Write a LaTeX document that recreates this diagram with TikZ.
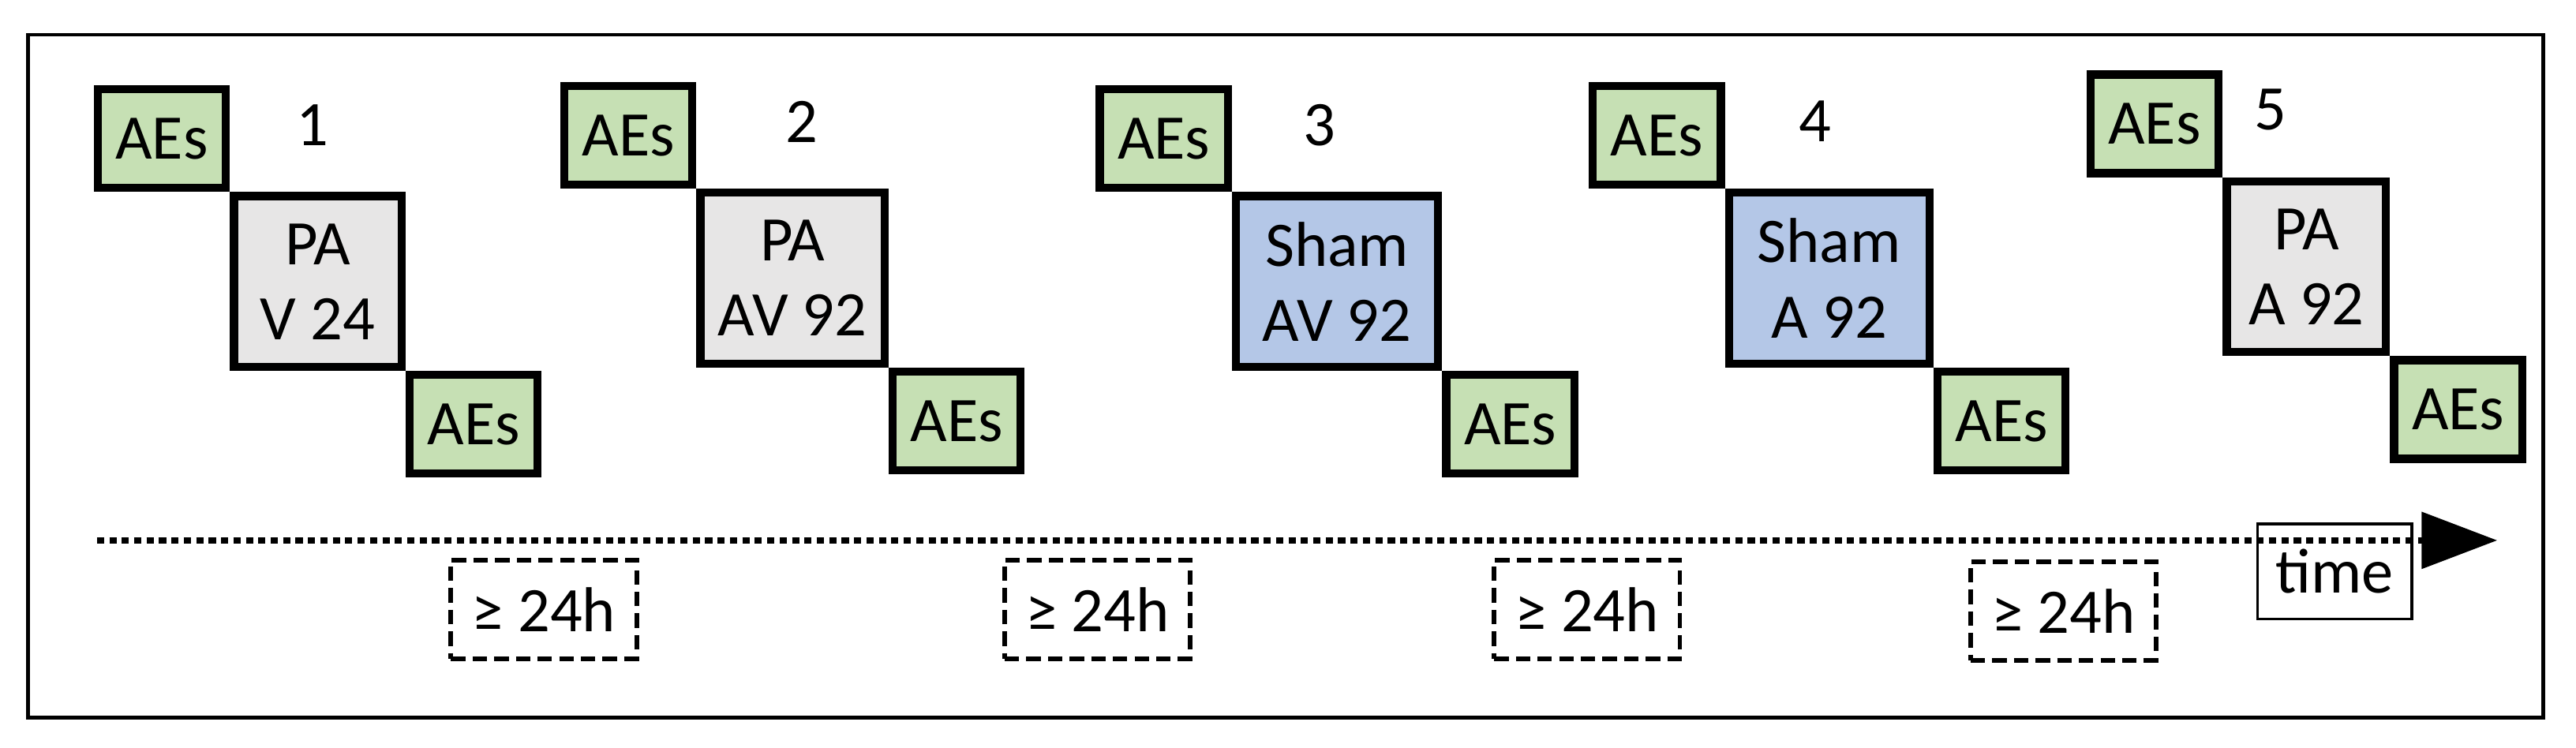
\documentclass[tikz,border=0pt]{standalone}
\usepackage{fontspec}
\setmainfont{Carlito}
\usetikzlibrary{arrows.meta}
\definecolor{aeg}{RGB}{198,224,180}
\definecolor{pag}{RGB}{231,230,230}
\definecolor{shb}{RGB}{180,199,231}
\tikzset{
  box/.style={draw, line width=2.8pt, inner sep=0pt, align=center, font=\fontsize{22}{26}\selectfont},
  ae/.style={box, fill=aeg, minimum width=78*0.02cm, minimum height=60*0.02cm},
  gap/.style={draw, line width=1.6pt, dash pattern=on 5pt off 2.5pt, minimum width=113*0.02cm, minimum height=60*0.02cm, font=\fontsize{22}{26}\selectfont, inner sep=0pt},
  num/.style={font=\fontsize{22}{26}\selectfont}
}
\newcommand\trial[7]{%
  \node[ae, anchor=north west] (a#6) at (#1,#2) {AEs};
  \node[box, fill=#4, anchor=north west, minimum width=#3*0.02cm, minimum height=104*0.02cm] (m#6) at (a#6.south east) {#5};
  \node[ae, anchor=north west] (b#6) at (m#6.south east) {AEs};
  \node[num] (n#6) at (#7,#2+24) {#6};
}
\begin{document}
\begin{tikzpicture}[x=0.02cm,y=-0.02cm]
\useasboundingbox (0,0) rectangle (1568,455);
\draw[line width=1.2pt] (17,21) rectangle (1548,437);
\trial{57}{52}{102}{pag}{PA\\V 24}{1}{190}
\trial{341}{50}{112}{pag}{PA\\AV 92}{2}{488}
\trial{667}{52}{123}{shb}{Sham\\AV 92}{3}{803}
\trial{967}{50}{122}{shb}{Sham\\A 92}{4}{1105}
\trial{1270}{43}{97}{pag}{PA\\A 92}{5}{1382}
\node[draw, line width=0.9pt, minimum width=94*0.02cm, minimum height=58*0.02cm, inner sep=0pt, font=\fontsize{22}{26}\selectfont] (time) at (1421,348) {time};
\coordinate (s) at (59,329);
\coordinate (e) at (1520,329);
\draw[line width=2pt, dash pattern=on 2.5pt off 1.8pt, -{Triangle[length=46*0.02cm, width=34*0.02cm]}] (s) -- (e);
\node[gap] (g1) at (331,371) {≥ 24h};
\node[gap] (g2) at (668,371) {≥ 24h};
\node[gap] (g3) at (966,371) {≥ 24h};
\node[gap] (g4) at (1256,372) {≥ 24h};
\end{tikzpicture}
\end{document}
